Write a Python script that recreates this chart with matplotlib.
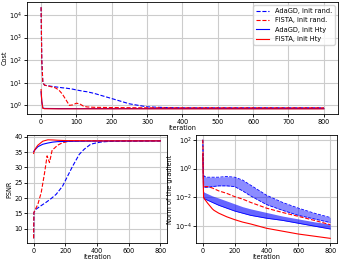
import numpy as np
import matplotlib
matplotlib.use('Agg')
import matplotlib.pyplot as plt

# cost curves
it_cost=[0,2,5,10,20,40,50,60,70,80,90,100,110,120,130,150,200,250,300,350,400,600,800]
cost_ada_rand=[2.2e4,100,10,7.8,7.3,6.6,6.3,6.0,5.8,5.5,5.2,4.8,4.5,4.2,4.0,3.4,2.0,1.17,0.86,0.8,0.78,0.78,0.78]
cost_fista_rand=[2.2e4,100,10,7.8,7.2,6.0,4.8,3.2,1.8,1.0,1.05,1.25,1.15,0.92,0.85,0.82,0.8,0.79,0.78,0.78,0.78,0.78,0.78]
it_cost_h=[0,2,5,10,50,100,200,400,800]
cost_ada_h=[4.0,1.5,0.76,0.73,0.72,0.72,0.72,0.72,0.72]
cost_fista_h=[5.0,1.5,0.74,0.71,0.70,0.70,0.70,0.70,0.70]

# psnr curves
it_psnr_ada=[0,2,17,50,79,110,142,183,204,246,288,320,360,392,422,454,484,600,800]
psnr_ada_rand=[6.8,15.3,16.4,17.6,18.6,19.8,21.2,23.9,26.1,30.4,34.3,36.0,37.6,38.0,38.3,38.45,38.55,38.65,38.7]
it_psnr_fista=[0,2,27,48,69,85,100,117,131,152,183,225,300,400,800]
psnr_fista_rand=[6.8,15.3,18.0,21.8,28.2,33.8,31.6,35.7,36.3,37.3,38.1,38.6,38.7,38.7,38.7]
it_psnr_h=[0,6,17,27,58,90,121,150,204,300,400,800]
psnr_ada_h=[35.2,35.6,36.25,36.8,37.6,38.0,38.3,38.45,38.55,38.6,38.65,38.7]
psnr_fista_h=[34.6,35.7,36.6,37.3,38.6,39.05,39.0,38.9,38.8,38.75,38.7,38.7]

# gradient norm (log10)
it_grad=[0,3,5,10,30,60,100,150,200,250,300,400,500,600,700,800]
grad_fista_rand=[2.0,0.0,-1.2,-1.25,-1.25,-1.35,-1.55,-1.72,-1.95,-2.12,-2.35,-2.75,-3.05,-3.32,-3.6,-3.9]
grad_ada_rand_hi=[2.0,0.3,-0.45,-0.55,-0.6,-0.6,-0.6,-0.55,-0.6,-0.8,-1.15,-1.85,-2.35,-2.75,-3.1,-3.4]
grad_ada_rand_lo=[2.0,0.0,-1.3,-1.3,-1.3,-1.25,-1.2,-1.2,-1.25,-1.55,-1.9,-2.5,-2.9,-3.25,-3.5,-3.75]
grad_ada_h_hi=[1.0,-1.0,-1.6,-1.65,-1.75,-1.9,-2.05,-2.25,-2.45,-2.65,-2.8,-3.05,-3.3,-3.5,-3.7,-3.85]
grad_ada_h_lo=[1.0,-1.0,-2.0,-2.1,-2.2,-2.35,-2.55,-2.75,-2.95,-3.1,-3.25,-3.45,-3.6,-3.8,-4.0,-4.2]
it_grad_fh=[0,3,5,10,30,60,70,100,150,200,250,300,400,500,600,700,800]
grad_fista_h=[1.0,-1.0,-2.0,-2.1,-2.4,-2.8,-2.9,-3.1,-3.35,-3.55,-3.72,-3.85,-4.15,-4.35,-4.55,-4.7,-4.85]

plt.rcParams['font.size']=4.7
plt.rcParams['axes.linewidth']=0.6
plt.rcParams['xtick.major.size']=2
plt.rcParams['ytick.major.size']=2
plt.rcParams['xtick.major.width']=0.6
plt.rcParams['ytick.major.width']=0.6
plt.rcParams['xtick.major.pad']=1.5
plt.rcParams['ytick.major.pad']=1.5
plt.rcParams['axes.labelpad']=1

fig=plt.figure(figsize=(3.41,2.65),dpi=100)
ax1=fig.add_axes([0.079,0.570,0.912,0.422])
ax2=fig.add_axes([0.080,0.082,0.409,0.409])
ax3=fig.add_axes([0.576,0.082,0.411,0.409])
lw=0.8

ax1.semilogy(it_cost,cost_ada_rand,'b--',lw=lw,label='AdaGD, init rand.')
ax1.semilogy(it_cost,cost_fista_rand,'r--',lw=lw,label='FISTA, init rand.')
ax1.semilogy(it_cost_h,cost_ada_h,'b-',lw=lw,label='AdaGD, init Hty')
ax1.semilogy(it_cost_h,cost_fista_h,'r-',lw=lw,label='FISTA, init Hty')
ax1.set_xlabel('iteration')
ax1.set_ylabel('Cost')
ax1.set_xticks([0,100,200,300,400,500,600,700,800])
ax1.legend(loc='upper right',fontsize=4.8)

ax2.plot(it_psnr_ada,psnr_ada_rand,'b--',lw=lw)
ax2.plot(it_psnr_fista,psnr_fista_rand,'r--',lw=lw)
ax2.plot(it_psnr_h,psnr_ada_h,'b-',lw=lw)
ax2.plot(it_psnr_h,psnr_fista_h,'r-',lw=lw)
ax2.set_xlabel('iteration')
ax2.set_ylabel('PSNR')
ax2.set_xticks([0,200,400,600,800])

g=lambda a: 10**np.array(a)
ax3.fill_between(it_grad,g(grad_ada_rand_lo),g(grad_ada_rand_hi),color='blue',alpha=0.45,lw=0)
ax3.semilogy(it_grad,g(grad_ada_rand_hi),'b--',lw=0.6)
ax3.semilogy(it_grad,g(grad_ada_rand_lo),'b--',lw=0.6)
ax3.semilogy(it_grad,g(grad_fista_rand),'r--',lw=lw)
ax3.fill_between(it_grad,g(grad_ada_h_lo),g(grad_ada_h_hi),color='blue',alpha=0.6,lw=0)
ax3.semilogy(it_grad,g(grad_ada_h_lo),'b-',lw=0.6)
ax3.semilogy(it_grad_fh,g(grad_fista_h),'r-',lw=lw)
ax3.set_xlabel('iteration')
ax3.set_ylabel('Norm of the gradient')
ax3.set_xticks([0,200,400,600,800])
ax3.set_yticks([1e-4,1e-2,1e0,1e2])
ax3.minorticks_off()

for ax in (ax1,ax2,ax3):
    ax.grid(True,color='#cccccc',lw=0.8)
    ax.set_axisbelow(True)
    ax.xaxis.labelpad=0
ax1.minorticks_off()

fig.savefig('out.png',dpi=100)
